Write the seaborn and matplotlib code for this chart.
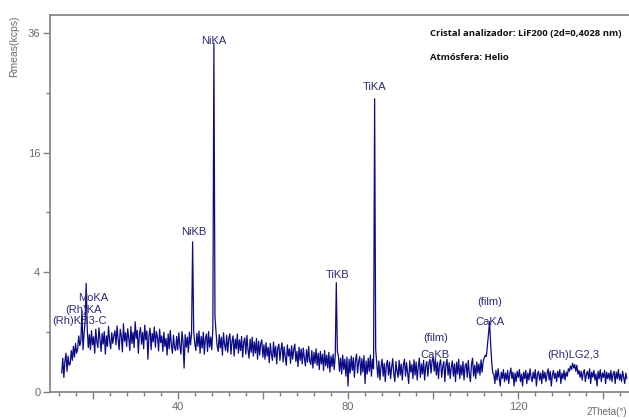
import matplotlib
matplotlib.use('agg')

import matplotlib.pyplot as plt
import seaborn as sns
import numpy as np
import pandas as pd

# spectrum: 2Theta start / step (deg) and measured rate (kcps)
theta_start = 12.75
theta_step = 0.25
kcps = [
    # 12.75 - 19.0
    0.10, 0.32, 0.06, 0.26, 0.42, 0.12, 0.36, 0.20,
    0.22, 0.48, 0.28, 0.58, 0.34, 0.66, 0.42,
    0.52, 0.88, 0.60, 0.72, 1.85, 0.50, 0.95, 1.40, 3.30, 1.10, 0.55,
    # 19.25 - 25.0
    0.92, 0.50, 1.05, 0.62, 0.85, 0.42, 1.10, 0.70, 0.55, 1.15, 0.78, 0.46,
    0.96, 0.64, 1.02, 0.40, 0.88, 0.58, 1.20, 0.74, 0.52, 0.98, 0.66, 0.90,
    # 25.25 - 36.0
    1.05, 0.62, 1.22, 0.78, 0.50, 1.10, 0.88, 0.45, 1.30, 0.72, 0.98, 0.58,
    1.12, 0.82, 0.48, 1.20, 0.66, 1.00, 0.55, 1.38, 0.80, 1.06, 0.42, 0.94,
    1.16, 0.64, 0.99, 0.52, 1.25, 0.76, 1.04, 0.30, 0.90, 1.14, 0.50, 0.96,
    0.70, 1.18, 0.56, 1.02, 0.84, 0.47, 1.10, 0.68,
    # 36.25 - 43.25
    0.88, 0.46, 1.00, 0.58, 0.80, 0.38, 0.94, 0.52, 1.06, 0.62, 0.42, 0.90,
    0.55, 0.48, 0.86, 0.50, 0.98, 0.60, 0.40, 1.02, 0.70, 0.16, 0.92, 0.56,
    0.84, 0.44, 1.00, 0.62, 0.95,
    # 43.5 NiKB, 43.75 - 48.25
    6.30,
    1.05, 0.66, 0.48, 0.96, 0.58, 1.04, 0.42, 0.86, 0.54, 1.00, 0.40, 0.80,
    0.94, 0.46, 1.02, 0.56, 0.84, 0.50, 1.15,
    # 48.5 NiKA, 48.75, 49.0 - 60.0
    34.0, 1.60,
    1.00, 0.60, 0.46, 0.92, 0.54, 0.84, 0.38, 0.98, 0.62, 0.48, 0.90, 0.44,
    0.80, 0.95, 0.40, 0.72, 0.88, 0.36, 0.78, 0.52, 0.94, 0.42, 0.76, 0.48,
    0.86, 0.34, 0.70, 0.82, 0.40, 0.90, 0.50, 0.32, 0.78, 0.44, 0.84, 0.36,
    0.70, 0.42, 0.80, 0.30, 0.72, 0.38, 0.66, 0.76, 0.34,
    # 60.25 - 77.0
    0.62, 0.30, 0.68, 0.36, 0.56, 0.24, 0.66, 0.40, 0.28, 0.70, 0.34, 0.58,
    0.22, 0.54, 0.64, 0.28, 0.50, 0.68, 0.25, 0.57, 0.34, 0.20, 0.62, 0.36,
    0.52, 0.23, 0.60, 0.30, 0.50, 0.64, 0.26, 0.46, 0.18, 0.56, 0.28, 0.52,
    0.22, 0.54, 0.32, 0.19, 0.50, 0.25, 0.58, 0.27, 0.21, 0.48, 0.16, 0.44,
    0.23, 0.52, 0.20, 0.42, 0.14, 0.46, 0.22, 0.40, 0.13, 0.48, 0.19, 0.38,
    0.16, 0.44, 0.11, 0.36, 0.18, 0.40, 0.14, 0.37,
    # 77.25 TiKB, 77.5, 77.75 - 86.0
    3.34, 0.45,
    0.36, 0.12, 0.32, 0.09, 0.38, 0.14, 0.30, 0.07, 0.34, 0.01,
    0.30, 0.10, 0.36, 0.13, 0.33, 0.06, 0.28, 0.40, 0.10, 0.26, 0.35, 0.08,
    0.31, 0.11, 0.37, 0.02, 0.27, 0.09, 0.32, 0.12, 0.38, 0.07, 0.30, 0.15,
    # 86.25 TiKA, 86.5, 86.75 - 112.25
    24.0, 0.50,
    0.22, 0.06, 0.27, 0.04, 0.18, 0.30, 0.07, 0.23, 0.03, 0.20, 0.28, 0.08,
    0.25, 0.05, 0.17, 0.31, 0.09, 0.03, 0.26, 0.12, 0.06, 0.28, 0.08, 0.22,
    0.04, 0.20, 0.30, 0.07, 0.24, 0.10, 0.02, 0.27, 0.11, 0.21, 0.05, 0.29,
    0.08, 0.25, 0.04, 0.18, 0.32, 0.06, 0.22, 0.09, 0.28, 0.04, 0.19, 0.26,
    0.07, 0.23, 0.30, 0.10, 0.27, 0.34, 0.12, 0.31, 0.08, 0.25, 0.05, 0.22,
    0.29, 0.06, 0.18, 0.26, 0.03, 0.21, 0.30, 0.08, 0.24, 0.05, 0.17, 0.27,
    0.07, 0.22, 0.03, 0.25, 0.09, 0.30, 0.05, 0.20, 0.08, 0.26, 0.04, 0.19,
    0.23, 0.06, 0.28, 0.09, 0.03, 0.21, 0.32, 0.07, 0.20, 0.05, 0.25, 0.10,
    0.22, 0.08, 0.29, 0.11, 0.26, 0.33, 0.38,
    # 112.5 - 114.0 CaKA
    0.35, 0.60, 0.95, 1.38, 0.65, 0.25, 0.10,
    # 114.25 - 145.5
    0.09, 0.02, 0.13, 0.04, 0.15, 0.06, 0.01, 0.11, 0.05, 0.14, 0.03, 0.10,
    0.04, 0.13, 0.02, 0.09, 0.16, 0.05, 0.11, 0.01, 0.10, 0.03, 0.12, 0.06,
    0.14, 0.03, 0.09, 0.01, 0.11, 0.05, 0.13, 0.02, 0.10, 0.04, 0.15, 0.06,
    0.03, 0.11, 0.05, 0.14, 0.01, 0.09, 0.12, 0.04, 0.10, 0.02, 0.13, 0.05,
    0.11, 0.03, 0.09, 0.15, 0.04, 0.12, 0.01, 0.08, 0.13, 0.05, 0.10, 0.03,
    0.12, 0.06, 0.14, 0.02, 0.10, 0.05, 0.13, 0.04, 0.11, 0.07, 0.15, 0.12,
    0.19, 0.14, 0.23, 0.16, 0.21, 0.12, 0.20, 0.09, 0.13, 0.06, 0.12, 0.04,
    0.10, 0.14, 0.03, 0.09, 0.12, 0.05, 0.15, 0.02, 0.11, 0.06, 0.13, 0.04,
    0.09, 0.01, 0.12, 0.05, 0.14, 0.03, 0.10, 0.06, 0.13, 0.02, 0.11, 0.05,
    0.10, 0.04, 0.13, 0.03, 0.09, 0.12, 0.02, 0.11, 0.05, 0.14, 0.04, 0.09,
    0.03, 0.12, 0.06, 0.02, 0.10, 0.05,
]

# peak labels: text, 2Theta, kcps where the label sits
peak_names = ['NiKA', 'NiKB', 'TiKA', 'TiKB', 'MoKA', '(Rh)KA', '(Rh)KB3-C',
              '(film)', 'CaKA', '(film)', 'CaKB', '(Rh)LG2,3']
peak_theta = [48.4, 43.7, 86.2, 77.5, 20.2, 17.9, 16.9,
              113.2, 113.4, 100.7, 100.5, 132.9]
peak_kcps = [34.4, 7.15, 26.0, 3.82, 2.47, 1.88, 1.41,
             2.26, 1.37, 0.815, 0.38, 0.38]

y_ticks = [0, 4, 16, 36]
y_minor = [1, 9, 25]
x_ticks = [20, 40, 60, 80, 100, 120, 140]
x_labeled = [40, 80, 120]

df = pd.DataFrame({'theta': theta_start + theta_step * np.arange(len(kcps)),
                   'kcps': kcps})

sns.set_style('white')
plt.rcParams['font.family'] = ['Liberation Sans', 'DejaVu Sans']

fig = plt.figure(figsize=(6.29, 4.18), dpi=100)
ax = fig.add_axes([50/629, 26/418, 579/629, 377/418])

sns.lineplot(data=df, x='theta', y='kcps', ax=ax, color='#0b0b86', lw=0.9,
             estimator=None, sort=False)

ax.set_yscale('function', functions=(lambda v: np.sqrt(np.clip(v, 0, None)),
                                     lambda v: np.square(v)))
ax.set_ylim(0, 39.7)
ax.set_xlim(10, 146)

grey = '#7f7f7f'
ax.set_yticks(y_ticks)
ax.set_yticks(y_minor, minor=True)
ax.set_yticklabels([str(t) for t in y_ticks])
ax.set_xticks(x_ticks)
ax.set_xticklabels([str(t) if t in x_labeled else '' for t in x_ticks])
ax.set_xticks(np.arange(12, 146, 4), minor=True)
ax.tick_params(axis='both', which='major', direction='out', length=5, width=1,
               color=grey, labelcolor='#6a6a6a', labelsize=8, pad=2, left=True, bottom=True)
ax.tick_params(axis='both', which='minor', direction='out', length=3, width=1,
               color=grey, left=True, bottom=True)
for s in ['left', 'bottom', 'top']:
    ax.spines[s].set_color(grey)
    ax.spines[s].set_linewidth(1.2)
ax.spines['right'].set_visible(False)
ax.set_xlabel('')
ax.set_ylabel('')

for name, t, k in zip(peak_names, peak_theta, peak_kcps):
    ax.text(t, k, name, ha='center', va='center', fontsize=8, color='#2a2a78')

fig.text(14/629, 1 - 46/418, 'Rmeas(kcps)', rotation=90, ha='center', va='center',
         fontsize=7.5, color='#6a6a6a')
fig.text(627/629, 1 - 412/418, '2Theta(°)', ha='right', va='center',
         fontsize=7, color='#6a6a6a')

fig.text(430/629, 1 - 33/418, 'Cristal analizador: LiF200 (2d=0,4028 nm)',
         ha='left', va='center', fontsize=6.8, fontweight='bold', color='#111111',
         family=['Open Sans', 'DejaVu Sans'])
fig.text(430/629, 1 - 57/418, 'Atmósfera: Helio',
         ha='left', va='center', fontsize=6.8, fontweight='bold', color='#111111',
         family=['Open Sans', 'DejaVu Sans'])

fig.savefig('out.png', dpi=100)
